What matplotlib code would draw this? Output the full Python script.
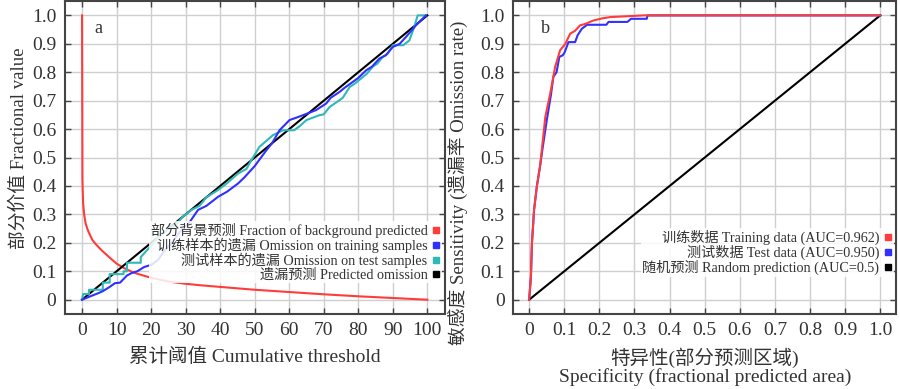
import matplotlib.pyplot as plt
from matplotlib.lines import Line2D

plt.rcParams['font.family'] = ['Liberation Serif', 'Noto Sans CJK SC']
plt.rcParams['axes.unicode_minus'] = False

# panel a: omission / background curves (threshold in %)
bg_x = [0, 0.1, 0.3, 0.6, 1, 1.5, 2, 3, 4, 5, 6, 8, 10, 12, 15, 20, 25, 30, 35, 40, 50, 60, 70, 80, 90, 100]
bg_y = [1.0, 0.42, 0.34, 0.30, 0.27, 0.25, 0.235, 0.21, 0.195, 0.182, 0.17, 0.148, 0.127, 0.112, 0.095, 0.077,
        0.064, 0.056, 0.05, 0.045, 0.035, 0.027, 0.019, 0.012, 0.006, 0.0]

train_x = [0, 2, 4.7, 6, 8, 9.5, 11, 13, 14.4, 16, 18, 20.1, 22, 24, 26, 28.8, 31, 33.6, 36, 39.4, 42, 45.2,
           47, 50, 53.4, 55, 57.2, 60.1, 62, 64, 67.8, 70.7, 72, 74.6, 76, 78.4, 80, 82.3, 84, 86.1, 88,
           90, 92, 93.8, 96.7, 99.6]
train_y = [0, 0.01, 0.023, 0.03, 0.045, 0.058, 0.06, 0.085, 0.094, 0.1, 0.115, 0.123, 0.14, 0.175, 0.2, 0.246,
           0.27, 0.316, 0.33, 0.362, 0.38, 0.409, 0.43, 0.47, 0.526, 0.55, 0.596, 0.632, 0.64, 0.649, 0.667,
           0.69, 0.71, 0.731, 0.745, 0.766, 0.78, 0.807, 0.82, 0.848, 0.86, 0.889, 0.9, 0.924, 0.965, 1.0]

test_x = [0, 0.3, 2, 2, 6, 6, 8, 8, 12, 12, 13, 13, 17, 17, 20, 22, 25, 27, 29, 31.7, 34, 36, 39.4, 42, 45.2,
          47.6, 49, 51.4, 55.3, 58.2, 61.4, 63, 65, 68.8, 70, 71.7, 74.6, 75.5, 77.5, 79, 81.3, 82.5, 84.2,
          85.5, 87.1, 88.5, 90, 93, 94.8, 96.2, 97.2, 99.6]
test_y = [0, 0.02, 0.02, 0.035, 0.035, 0.06, 0.06, 0.09, 0.09, 0.1, 0.1, 0.13, 0.13, 0.15, 0.19, 0.22, 0.25,
          0.26, 0.29, 0.316, 0.33, 0.36, 0.386, 0.41, 0.444, 0.46, 0.49, 0.538, 0.579, 0.596, 0.596, 0.61,
          0.632, 0.649, 0.652, 0.678, 0.702, 0.71, 0.748, 0.76, 0.783, 0.795, 0.82, 0.83, 0.854, 0.865, 0.895,
          0.895, 0.912, 0.959, 1.0, 1.0]

pred_x = [0, 100]
pred_y = [0, 1]

# panel b: ROC
roc_train_x = [0, 0.005, 0.008, 0.014, 0.022, 0.031, 0.036, 0.046, 0.06, 0.074, 0.088, 0.103, 0.117, 0.13,
               0.145, 0.16, 0.183, 0.21, 0.231, 0.28, 0.326, 1.0]
roc_train_y = [0, 0.08, 0.2, 0.316, 0.398, 0.468, 0.526, 0.643, 0.725, 0.819, 0.877, 0.9, 0.936, 0.945,
               0.965, 0.97, 0.982, 0.99, 0.994, 0.997, 1.0, 1.0]
roc_test_x = [0, 0.005, 0.008, 0.014, 0.022, 0.031, 0.038, 0.05, 0.062, 0.069, 0.078, 0.086, 0.096, 0.101,
              0.112, 0.131, 0.138, 0.15, 0.165, 0.22, 0.226, 0.28, 0.29, 0.335, 0.337, 1.0]
roc_test_y = [0, 0.08, 0.2, 0.316, 0.4, 0.47, 0.53, 0.63, 0.72, 0.784, 0.8, 0.854, 0.86, 0.87, 0.906, 0.906,
              0.93, 0.953, 0.967, 0.967, 0.977, 0.977, 0.988, 0.988, 1.0, 1.0]
rand_x = [0, 1]
rand_y = [0, 1]

RED = '#ff3b3b'
BLUE = '#3030ff'
CYAN = '#30b8b8'
GRID = '#cfcfcf'
SPINE = '#444444'
TXT = '#333333'

fig = plt.figure(figsize=(9, 3.89), dpi=100)
ax1 = fig.add_axes([0.072, 0.193, 0.422, 0.804])
ax2 = fig.add_axes([0.57, 0.193, 0.426, 0.804])


def style(ax):
    ax.grid(True, color=GRID, lw=1)
    ax.set_axisbelow(True)
    for s in ax.spines.values():
        s.set_color(SPINE)
        s.set_linewidth(1.5)
    ax.tick_params(direction='in', top=True, right=True, length=4, width=1, color=SPINE,
                   labelsize=14, pad=6, labelcolor=TXT)
    ax.set_ylim(-0.05, 1.05)
    ax.set_yticks([i / 10 for i in range(11)])
    ax.set_yticklabels(['0'] + ['%.1f' % (i / 10) for i in range(1, 11)])


def legend(ax, labels, colors, y0):
    handles = [Line2D([], [], marker='s', ls='none', color=c, markersize=4) for c in colors]
    leg = ax.legend(handles, labels, loc='lower right', bbox_to_anchor=(1.0, y0), markerfirst=False,
                    frameon=True, fontsize=10.2, handletextpad=0.3, labelspacing=0.0, borderpad=0.1,
                    handlelength=0.6, borderaxespad=0.2)
    leg.get_frame().set_facecolor('white')
    leg.get_frame().set_edgecolor('none')
    leg.get_frame().set_alpha(0.85)
    for t in leg.get_texts():
        t.set_ha('right')
        t.set_color(TXT)


style(ax1)
ax1.plot(bg_x, bg_y, color=RED, lw=1.5)
ax1.plot(pred_x, pred_y, color='black', lw=1.5)
ax1.plot(test_x, test_y, color=CYAN, lw=1.5)
ax1.plot(train_x, train_y, color=BLUE, lw=1.5)
ax1.set_xlim(-5, 105)
ax1.set_xticks(range(0, 101, 10))
ax1.text(3.5, 0.955, 'a', fontsize=13, va='center', color=TXT)
ax1.set_xlabel('累计阈值 Cumulative threshold', fontsize=14, color=TXT, labelpad=6)
ax1.set_ylabel('部分价值 Fractional value', fontsize=13.5, color=TXT)
ax1.yaxis.set_label_coords(-0.097, 0.53)
legend(ax1, ['部分背景预测 Fraction of background predicted',
             '训练样本的遗漏 Omission on training samples',
             '测试样本的遗漏 Omission on test samples',
             '遗漏预测 Predicted omission'],
       [RED, BLUE, CYAN, 'black'], 0.09)

style(ax2)
ax2.plot(rand_x, rand_y, color='black', lw=1.5)
ax2.plot(roc_test_x, roc_test_y, color=BLUE, lw=1.5)
ax2.plot(roc_train_x, roc_train_y, color=RED, lw=1.5)
ax2.set_xlim(-0.046, 1.046)
ax2.set_xticks([i / 10 for i in range(11)])
ax2.set_xticklabels(['0'] + ['%.1f' % (i / 10) for i in range(1, 11)])
ax2.text(0.035, 0.955, 'b', fontsize=13, va='center', color=TXT)
ax2.set_xlabel('特异性(部分预测区域)\nSpecificity (fractional predicted area)', fontsize=14,
               color=TXT, labelpad=6, linespacing=1.0)
ax2.set_ylabel('敏感度 Sensitivity (遗漏率 Omission rate)', fontsize=13.5, color=TXT)
ax2.yaxis.set_label_coords(-0.115, 0.42)
legend(ax2, ['训练数据 Training data (AUC=0.962)',
             '测试数据 Test data (AUC=0.950)',
             '随机预测 Random prediction (AUC=0.5)'],
       [RED, BLUE, 'black'], 0.11)

fig.savefig('out.png', dpi=100)
